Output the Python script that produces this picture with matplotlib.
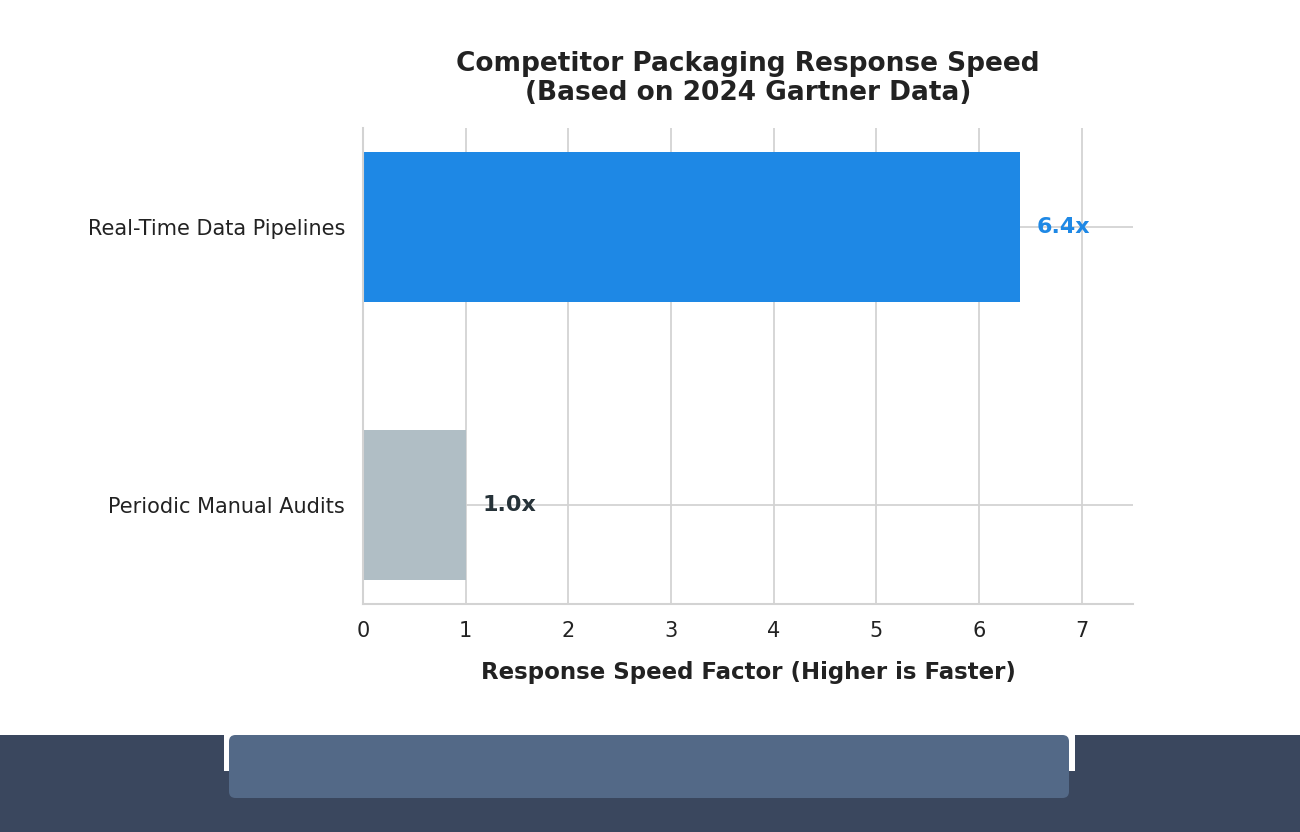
import matplotlib
matplotlib.use("Agg")
import matplotlib.pyplot as plt
from matplotlib.patches import Rectangle, FancyBboxPatch

categories = ["Periodic Manual Audits", "Real-Time Data Pipelines"]
values = [1.0, 6.4]
colors = ["#b0bec5", "#1e88e5"]
label_colors = ["#263238", "#1e88e5"]
xticks = [0, 1, 2, 3, 4, 5, 6, 7]

plt.rcParams['font.family'] = ['DejaVu Sans']

fig = plt.figure(figsize=(13, 8.32), dpi=100)
ax = fig.add_axes([363/1300, 1-604/832, (1133-363)/1300, (604-128)/832])

ax.set_axisbelow(True)
ax.grid(True, color="#d3d3d3", linewidth=1.3)
ax.barh(range(len(categories)), values, height=0.54, color=colors, zorder=2)
for i, (v, c) in enumerate(zip(values, label_colors)):
    ax.text(v + 0.16, i, f"{v:.1f}x", va="center", ha="left",
            fontsize=16, fontweight="bold", color=c, zorder=3)

ax.set_xlim(0, 7.5)
ax.set_ylim(-0.356, 1.356)
ax.set_xticks(xticks)
ax.set_yticks(range(len(categories)))
ax.set_yticklabels(categories)
ax.tick_params(axis="both", length=0, labelsize=15, colors="#222222")
ax.tick_params(axis="x", pad=12.5)
ax.tick_params(axis="y", pad=13)
for s in ["top", "right"]:
    ax.spines[s].set_visible(False)
for s in ["left", "bottom"]:
    ax.spines[s].set_color("#d3d3d3")
    ax.spines[s].set_linewidth(1.5)
ax.set_xlabel("Response Speed Factor (Higher is Faster)", fontsize=16.5,
              fontweight="bold", color="#222222", labelpad=14)
ax.set_title("Competitor Packaging Response Speed\n(Based on 2024 Gartner Data)",
             fontsize=19, fontweight="bold", color="#222222", pad=20, linespacing=1.15)

# bottom decorative band
def fx(px):
    return px / 1300
def fy(py):
    return 1 - py / 832
fig.patches.append(Rectangle((0, 0), 1, fy(735), transform=fig.transFigure,
                             facecolor="#3a475e", edgecolor="none", zorder=0))
fig.patches.append(Rectangle((fx(224), fy(771)), fx(1075) - fx(224), fy(735) - fy(771),
                             transform=fig.transFigure, facecolor="white",
                             edgecolor="none", zorder=1))
fig.patches.append(FancyBboxPatch((fx(229), fy(798)), fx(1069) - fx(229), fy(735) - fy(798),
                                  boxstyle="round,pad=0,rounding_size=0.005",
                                  transform=fig.transFigure, facecolor="#536987",
                                  edgecolor="none", zorder=2, mutation_aspect=1.56))

fig.savefig("out.png", dpi=100)
